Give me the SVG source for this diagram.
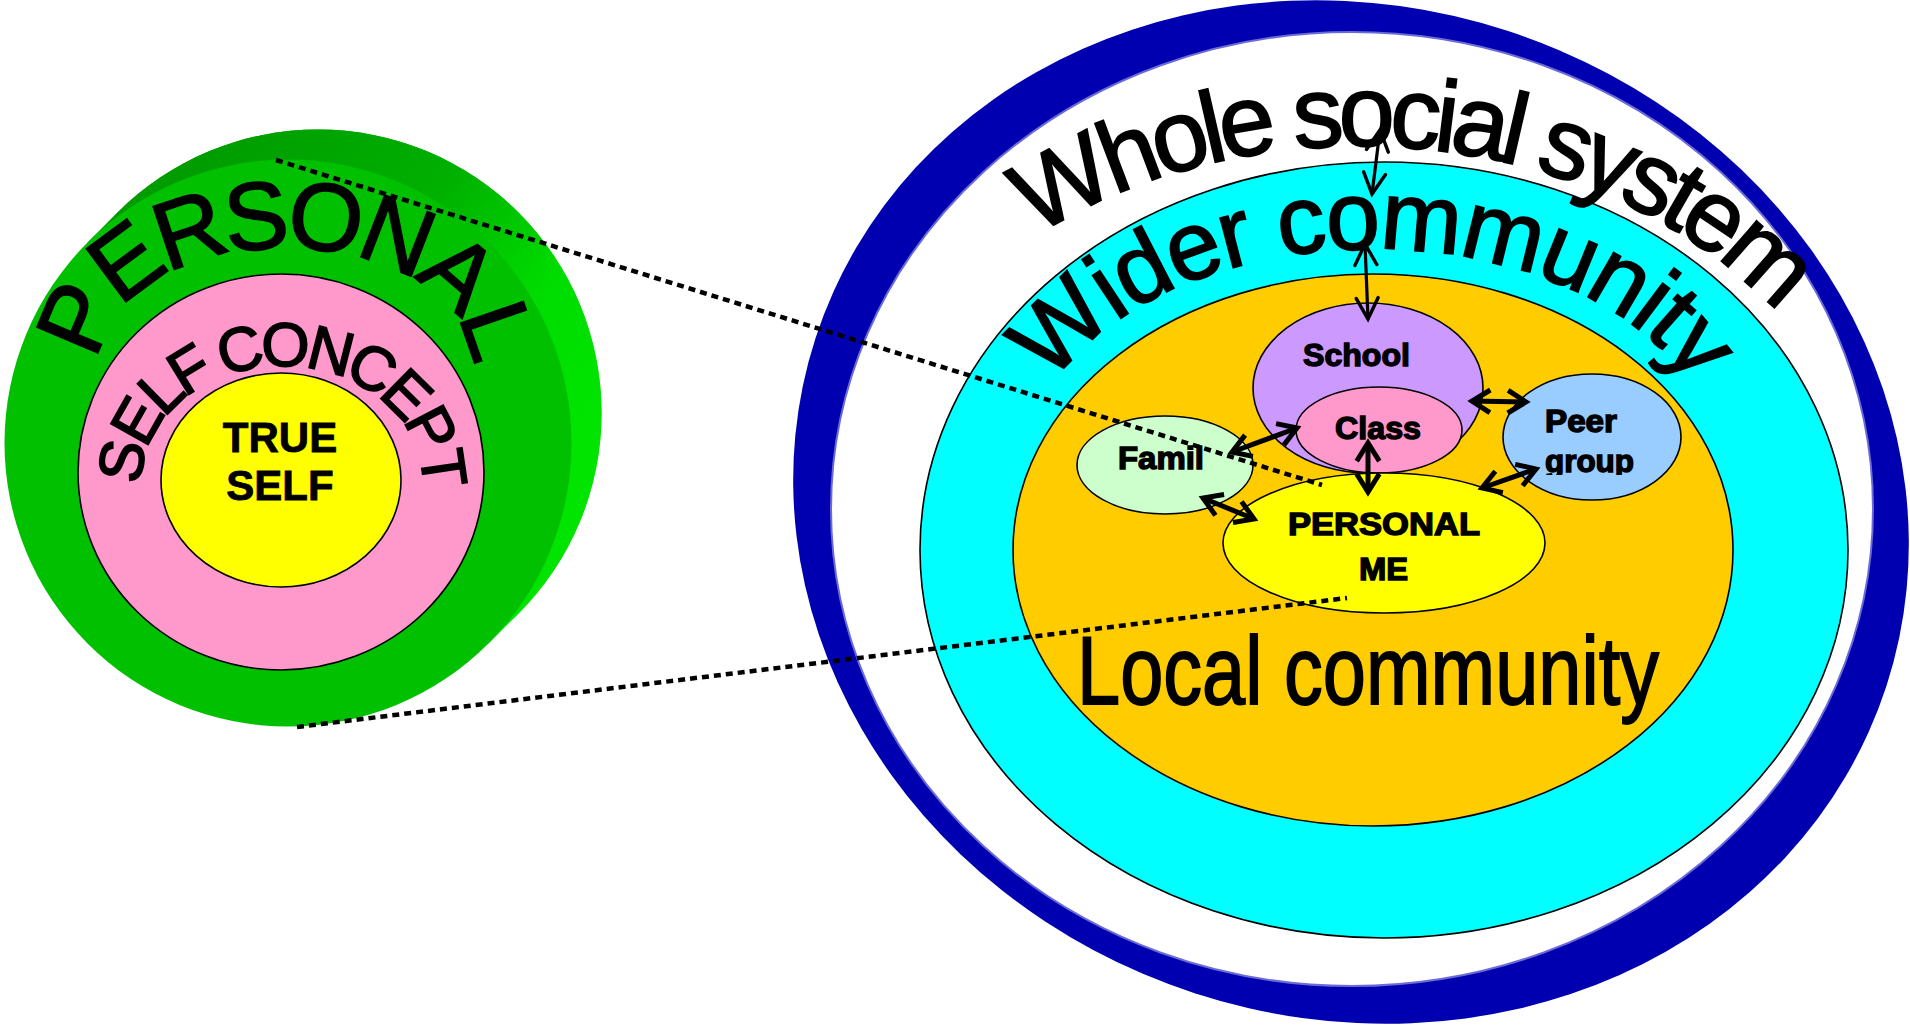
<svg xmlns="http://www.w3.org/2000/svg" width="1910" height="1027" viewBox="0 0 1910 1027">
  <defs>
    <style>
      .shape { stroke: #000; stroke-width: 1.6; }
      .arc { font-family: "Liberation Sans", Arial, sans-serif; fill: #000; stroke: #000; stroke-width: 1.8; }
      .lbl { font-family: "Liberation Sans", Arial, sans-serif; font-weight: bold; font-size: 31px; fill: #000; stroke: #000; stroke-width: 1.4; }
      .dots { fill: none; stroke: #000; stroke-width: 4.5; stroke-dasharray: 7 5; }
      .thin { fill: none; stroke: #000; stroke-width: 3.2; marker-start: url(#headThin); marker-end: url(#headThin); }
      .thick { fill: none; stroke: #000; stroke-width: 5; marker-start: url(#headThick); marker-end: url(#headThick); }
    </style>
    <linearGradient id="discSide" gradientUnits="userSpaceOnUse" x1="200" y1="150" x2="560" y2="450">
      <stop offset="0" stop-color="#009c00"/>
      <stop offset="0.45" stop-color="#00b000"/>
      <stop offset="0.75" stop-color="#00dc00"/>
      <stop offset="1" stop-color="#00e400"/>
    </linearGradient>
    <marker id="headThin" markerUnits="userSpaceOnUse" viewBox="-26 -16 32 32" markerWidth="32" markerHeight="32" refX="0" refY="0" orient="auto-start-reverse">
      <path d="M -21 -11 L 0 0 L -21 11" fill="none" stroke="#000" stroke-width="3.4" stroke-linecap="round"/>
    </marker>
    <marker id="headThick" markerUnits="userSpaceOnUse" viewBox="-22 -14 28 28" markerWidth="28" markerHeight="28" refX="0" refY="0" orient="auto-start-reverse">
      <path d="M -16 -10 L 0 0 L -16 10" fill="none" stroke="#000" stroke-width="5" stroke-linecap="square"/>
    </marker>
    <clipPath id="groupClip">
      <rect x="1535" y="440" width="120" height="35"/>
    </clipPath>
    <!-- baselines for the curved titles -->
    <path id="personalArc" d="M 100 362 A 185 114 0 0 1 470 362"/>
    <path id="selfArc" d="M 141 483 A 141 117 0 0 1 423 483"/>
    <path id="wholeArc" d="M 840 560 A 520 414 0 0 1 1880 560"/>
    <path id="widerArc" d="M 1027 469 A 345 220 0 0 1 1717 469"/>
  </defs>

  <rect width="1910" height="1027" fill="#fff"/>

  <!-- left: the personal disc, drawn as a short cylinder -->
  <g id="personal-disc">
    <path d="M 87.5 242.5 L 117.5 212.5 A 283.5 283.5 0 0 1 518.5 613.5 L 488.5 643.5 Z" fill="url(#discSide)"/>
    <circle cx="318" cy="413" r="283.5" fill="url(#discSide)"/>
    <circle cx="288" cy="443" r="283.5" fill="#00c000"/>
    <text class="arc" font-size="96" letter-spacing="-6"><textPath href="#personalArc" startOffset="50%" text-anchor="middle">PERSONAL</textPath></text>
  </g>

  <g id="self-concept">
    <ellipse class="shape" cx="281" cy="472" rx="203" ry="198" fill="#ff99cc"/>
    <text class="arc" font-size="62" letter-spacing="-5.5"><textPath href="#selfArc" startOffset="50%" text-anchor="middle">SELF CONCEPT</textPath></text>
  </g>

  <g id="true-self">
    <ellipse class="shape" cx="281" cy="480" rx="120" ry="107" fill="#ffff00"/>
    <text class="lbl" text-anchor="middle" x="280" y="452" style="font-size:42px;stroke-width:0.8">TRUE</text>
    <text class="lbl" text-anchor="middle" x="280" y="500" style="font-size:42px;stroke-width:0.8">SELF</text>
  </g>

  <!-- right: nested social circles -->
  <g id="whole-social-system">
    <ellipse cx="1351" cy="512" rx="563" ry="506" fill="#0000b0" transform="rotate(18 1351 512)"/>
    <ellipse cx="1352" cy="509" rx="521" ry="477" fill="#fff" stroke="#6a6ad8" stroke-width="2"/>
  </g>

  <g id="wider-community">
    <ellipse class="shape" cx="1384" cy="550" rx="464" ry="388" fill="#00ffff"/>
  </g>

  <g id="local-community">
    <ellipse class="shape" cx="1373" cy="550" rx="360" ry="276" fill="#ffcc00"/>
    <text class="arc" x="1077" y="704" font-size="96" textLength="582" lengthAdjust="spacingAndGlyphs">Local community</text>
  </g>

  <g id="family">
    <ellipse class="shape" cx="1165" cy="465" rx="88" ry="49" fill="#ccffcc"/>
    <text class="lbl" x="1118" y="469" textLength="86" lengthAdjust="spacingAndGlyphs">Famil</text>
  </g>

  <g id="school">
    <ellipse class="shape" cx="1368" cy="388" rx="115" ry="85" fill="#cc99ff"/>
    <text class="lbl" x="1303" y="366" textLength="107" lengthAdjust="spacingAndGlyphs">School</text>
  </g>

  <g id="class">
    <ellipse class="shape" cx="1379" cy="430" rx="83" ry="43" fill="#ff99cc"/>
    <text class="lbl" x="1335" y="439" textLength="86" lengthAdjust="spacingAndGlyphs">Class</text>
  </g>

  <g id="peer-group">
    <ellipse class="shape" cx="1592" cy="437" rx="89" ry="63" fill="#99ccff"/>
    <text class="lbl" x="1545" y="432" textLength="72" lengthAdjust="spacingAndGlyphs">Peer</text>
    <text class="lbl" x="1545" y="472" textLength="89" lengthAdjust="spacingAndGlyphs" clip-path="url(#groupClip)">group</text>
  </g>

  <g id="personal-me">
    <ellipse class="shape" cx="1384" cy="543" rx="161" ry="70" fill="#ffff00"/>
    <text class="lbl" x="1288" y="535" textLength="192" lengthAdjust="spacingAndGlyphs">PERSONAL</text>
    <text class="lbl" x="1359" y="580" textLength="49" lengthAdjust="spacingAndGlyphs">ME</text>
  </g>

  <!-- curved ring titles -->
  <text class="arc" font-size="101" letter-spacing="-6.5"><textPath href="#wholeArc" startOffset="395">Whole social system</textPath></text>
  <text class="arc" font-size="97" letter-spacing="-2"><textPath href="#widerArc" startOffset="89">Wider community</textPath></text>

  <g id="connectors">
    <line class="thin" x1="1380" y1="130" x2="1372" y2="194"/>
    <line class="thin" x1="1365" y1="244" x2="1368" y2="319"/>
    <line class="thick" x1="1368" y1="443" x2="1368" y2="492"/>
    <line class="thick" x1="1232" y1="452" x2="1297" y2="428"/>
    <line class="thick" x1="1203" y1="498" x2="1254" y2="519"/>
    <line class="thick" x1="1472" y1="401" x2="1526" y2="402"/>
    <line class="thick" x1="1482" y1="488" x2="1536" y2="469"/>
    <line class="dots" x1="276" y1="160" x2="1322" y2="485"/>
    <line class="dots" x1="297" y1="727" x2="1347" y2="598"/>
  </g>
</svg>
